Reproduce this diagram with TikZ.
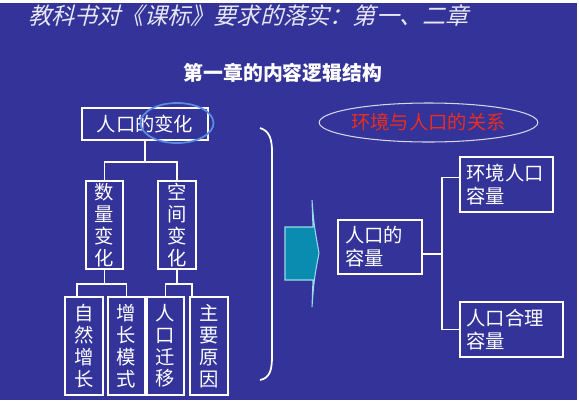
\documentclass[tikz,border=0pt]{standalone}
\usepackage{fontspec}
\usepackage{tikz}
\usetikzlibrary{calc,shapes.geometric}
\setmainfont{Noto Sans CJK SC}
\newfontfamily\cjk{Noto Sans CJK SC}
\newfontfamily\cjkslant{Noto Sans CJK SC}[FakeSlant=0.25]
\definecolor{slidebg}{RGB}{51,51,153}
\definecolor{arrowfill}{RGB}{10,140,176}
\definecolor{arrowedge}{RGB}{150,220,235}
\definecolor{ovalblue}{RGB}{90,140,230}
\definecolor{relred}{RGB}{235,45,30}
\newdimen\unitpx \unitpx=0.02cm

\begin{document}
\begin{tikzpicture}[x=0.02cm, y=-0.02cm,
  box/.style={draw=white, line width=1pt, inner sep=0pt, text=white,
    font=\cjk\fontsize{11}{13}\selectfont},
  vbox/.style={box, align=center, font=\cjk\fontsize{11}{12.4}\selectfont},
  link/.style={draw=white, line width=1pt}]
\useasboundingbox (0,0) rectangle (579,400);
\fill[white] (0,0) rectangle (579,400);
\fill[slidebg] (0,3) rectangle (577,400);
% titles
\node[anchor=west, text=white!88!slidebg, font=\cjkslant\fontsize{13.2}{15}\selectfont]
  (title) at (22,16) {教科书对《课标》要求的落实：第一、二章};
\node[text=white, font=\cjk\bfseries\fontsize{11.3}{13}\selectfont]
  (sub) at (283,73) {第一章的内容逻辑结构};
% left tree
\node[box, minimum width=126\unitpx, minimum height=32\unitpx] (top) at (145,124) {人口的变化};
\draw[ovalblue, line width=1pt] (177,123) ellipse (36.5 and 20);
\node[vbox, minimum width=37\unitpx, minimum height=88\unitpx] (sl) at (104.5,225) {数\\量\\变\\化};
\node[vbox, minimum width=38\unitpx, minimum height=88\unitpx] (kj) at (177,225) {空\\间\\变\\化};
\node[vbox, minimum width=38\unitpx, minimum height=98\unitpx] (b1) at (84,346) {自\\然\\增\\长};
\node[vbox, minimum width=37\unitpx, minimum height=98\unitpx] (b2) at (126.5,346) {增\\长\\模\\式};
\node[vbox, minimum width=37\unitpx, minimum height=98\unitpx] (b3) at (165.5,346) {人\\口\\迁\\移};
\node[vbox, minimum width=38\unitpx, minimum height=98\unitpx] (b4) at (209,346) {主\\要\\原\\因};
\draw[link] (top.south) -- ++(0,21) coordinate (j1);
\draw[link] (sl.north) |- (j1) -| (kj.north);
\coordinate (d1) at ($(b1.north west)!0.32!(b1.north east)$);
\coordinate (d4) at ($(b4.north west)!0.08!(b4.north east)$);
\draw[link] (sl.south) -- ++(0,14) coordinate (j2);
\draw[link] (d1) |- (j2) -| (b2.north);
\draw[link] (kj.south) -- ++(0,14) coordinate (j3);
\draw[link] (b3.north) |- (j3) -| (d4);
% bracket
\draw[white, line width=1pt] (260,128) .. controls (270,131) and (272,140) .. (272,152)
  -- (272,356) .. controls (272,370) and (270,378) .. (260,380);
% block arrow
\fill[arrowfill, draw=arrowedge, line width=0.6pt] (285,227) -- (313,227) -- (312,200)
  .. controls (314,225) .. (319,253) .. controls (314,280) .. (312,307)
  -- (313,280) -- (285,280) -- cycle;
% right tree
\node[draw=white!80!slidebg, line width=0.6pt, ellipse, minimum width=209\unitpx, minimum height=39\unitpx,
  inner sep=0pt, text=relred, font=\cjk\fontsize{11}{13}\selectfont] (rel) at (428.5,122.5) {环境与人口的关系};
\node[box, minimum width=84\unitpx, minimum height=54\unitpx, align=left, text width=70\unitpx] (cap) at (380,247) {人口的\\容量};
\node[box, minimum width=93\unitpx, minimum height=55\unitpx, align=left, text width=80\unitpx] (env) at (506.5,184.5) {环境人口\\容量};
\node[box, minimum width=103\unitpx, minimum height=55\unitpx, align=left, text width=90\unitpx] (rea) at (511.5,329.5) {人口合理\\容量};
\draw[link] ($(cap.east)+(0,7)$) -- ++(19,0) coordinate (j4);
\draw[link] ($(env.west)+(0,-7)$) -| (j4) |- (rea.west);
\end{tikzpicture}
\end{document}
